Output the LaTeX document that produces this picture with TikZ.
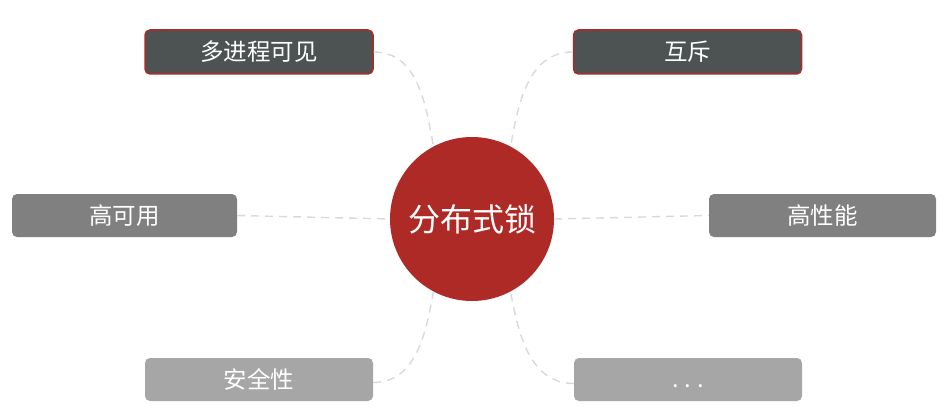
\documentclass[tikz,border=0pt]{standalone}
\usepackage{fontspec}
\setmainfont{Noto Sans CJK SC}
\definecolor{darkbox}{HTML}{4D5252}
\definecolor{redc}{HTML}{AE2A27}
\definecolor{midbox}{HTML}{808080}
\definecolor{lightbox}{HTML}{A6A6A6}
\definecolor{dashc}{HTML}{D9D9D9}
\tikzset{
  tagbox/.style={rectangle, rounded corners=5pt, text=white, inner sep=0pt,
    minimum width=228pt, minimum height=44pt, font=\fontsize{23.5}{26}\selectfont},
  darktag/.style={tagbox, fill=darkbox, draw=redc, line width=1.5pt},
  midtag/.style={tagbox, fill=midbox, minimum height=43pt},
  lighttag/.style={tagbox, fill=lightbox, minimum height=43pt},
  hub/.style={circle, fill=redc, text=white, minimum size=164pt, inner sep=0pt,
    font=\fontsize{32}{36}\selectfont},
  link/.style={draw=dashc, line width=1.4pt, dash pattern=on 8pt off 6pt}
}
\begin{document}
\begin{tikzpicture}[x=1pt,y=1pt]
\useasboundingbox (0,0) rectangle (945,416);
\node[hub] (circ) at (472,197) {分布式锁};
\node[darktag] (A) at (259,364) {多进程可见};
\node[darktag] (B) at (687.5,364) {互斥};
\node[midtag, minimum width=225pt] (C) at (124.5,200.5) {高可用};
\node[midtag, minimum width=227pt] (D) at (822.5,200.5) {高性能};
\node[lighttag] (E) at (259,36.5) {安全性};
\node[lighttag] (F) at (688,36.5) {\smash{\raisebox{-7.5pt}{.\hspace{6pt}.\hspace{6pt}.}}};
\draw[link] (A.east) to[out=0,in=100] (circ.118);
\draw[link] (B.west) to[out=180,in=80] (circ.62);
\draw[link] (C.east) -- (circ.west);
\draw[link] (circ.east) -- (D.west);
\draw[link] ([yshift=-3pt]E.east) to[out=0,in=-100] (circ.242);
\draw[link] ([yshift=-4pt]F.west) to[out=180,in=-80] (circ.298);
\end{tikzpicture}
\end{document}
